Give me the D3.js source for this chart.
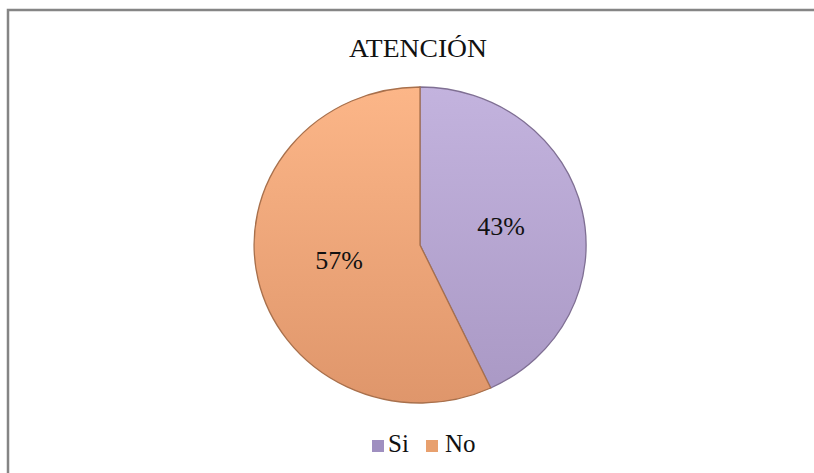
<!DOCTYPE html>
<html>
<head>
<meta charset="utf-8"/>
<script src="https://cdnjs.cloudflare.com/ajax/libs/d3/7.8.5/d3.min.js"></script>
<style>
  body { margin: 0; background: #fff; }
</style>
</head>
<body>
<script>
// chart data
const categories = ['Si', 'No'];
const values = [43, 57];
const colorsTop = ['#c3b3de', '#fcb688'];
const colorsBottom = ['#a998c4', '#df966b'];
const legendColors = ['#9f8fc0', '#e8a06e'];
const title = 'ATENCIÓN';

const W = 814, H = 473;
const cx = 420, cy = 245, rx = 166, ry = 158;
const serif = '"Liberation Serif", "Times New Roman", serif';

const svg = d3.select('body').append('svg')
  .attr('width', W)
  .attr('height', H)
  .style('font-family', serif);

// frame (only top + left visible in the crop)
svg.append('rect')
  .attr('x', 8).attr('y', 10)
  .attr('width', W + 20).attr('height', H + 20)
  .attr('fill', 'none')
  .attr('stroke', '#858585')
  .attr('stroke-width', 2.5);

svg.append('text')
  .attr('x', 418).attr('y', 57)
  .attr('text-anchor', 'middle')
  .attr('font-family', serif)
  .attr('font-size', 26)
  .attr('fill', '#111')
  .attr('textLength', 138)
  .attr('lengthAdjust', 'spacingAndGlyphs')
  .text(title);

// gradients per slice
const defs = svg.append('defs');
categories.forEach((c, i) => {
  const g = defs.append('linearGradient')
    .attr('id', 'g' + i)
    .attr('gradientUnits', 'userSpaceOnUse')
    .attr('x1', 0).attr('y1', -1).attr('x2', 0).attr('y2', 1);
  g.append('stop').attr('offset', '0%').attr('stop-color', colorsTop[i]);
  g.append('stop').attr('offset', '100%').attr('stop-color', colorsBottom[i]);
});

const pie = d3.pie().sort(null).value(d => d)(values);
const arc = d3.arc().innerRadius(0).outerRadius(1);

// pie is drawn in unit space and stretched into an ellipse
const gPie = svg.append('g')
  .attr('transform', `translate(${cx},${cy}) scale(${rx},${ry})`);

gPie.selectAll('path')
  .data(pie)
  .enter().append('path')
  .attr('d', arc)
  .attr('fill', (d, i) => `url(#g${i})`)
  .attr('stroke', (d, i) => i === 0 ? '#7f6f93' : '#a8704c')
  .attr('stroke-width', 1.3)
  .attr('vector-effect', 'non-scaling-stroke');

// percent labels
const labelArc = d3.arc().innerRadius(0.5).outerRadius(0.5);
svg.selectAll('text.pct')
  .data(pie)
  .enter().append('text')
  .attr('class', 'pct')
  .attr('x', d => cx + labelArc.centroid(d)[0] * rx)
  .attr('y', d => cy + labelArc.centroid(d)[1] * ry + 7)
  .attr('text-anchor', 'middle')
  .attr('font-family', serif)
  .attr('font-size', 26)
  .attr('fill', '#111')
  .text(d => d.data + '%');

// legend
const legendX = [372, 426];
const leg = svg.selectAll('g.leg')
  .data(categories)
  .enter().append('g')
  .attr('class', 'leg')
  .attr('transform', (d, i) => `translate(${legendX[i]},440)`);
leg.append('rect')
  .attr('width', 12).attr('height', 12)
  .attr('fill', (d, i) => legendColors[i]);
leg.append('text')
  .attr('x', (d, i) => i === 0 ? 16 : 19)
  .attr('y', 12)
  .attr('font-family', serif)
  .attr('font-size', 25)
  .attr('fill', '#111')
  .text(d => d);
</script>
</body>
</html>
